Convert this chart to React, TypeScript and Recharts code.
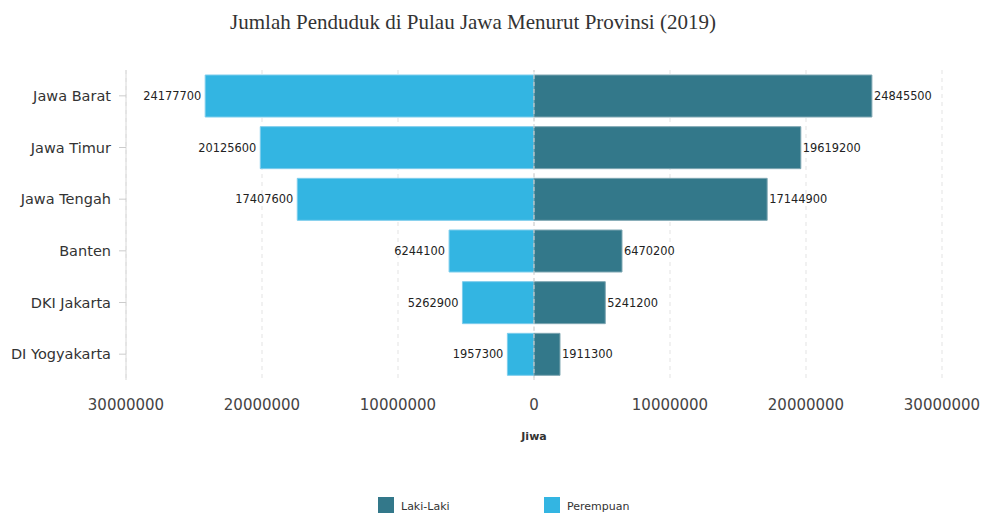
import React from 'react';
import {
  ComposedChart, Bar, XAxis, YAxis, CartesianGrid, ReferenceLine, LabelList,
} from 'recharts';

const provinces = ['Jawa Barat', 'Jawa Timur', 'Jawa Tengah', 'Banten', 'DKI Jakarta', 'DI Yogyakarta'];
const lakiLaki = [24845500, 19619200, 17144900, 6470200, 5241200, 1911300];
const perempuan = [24177700, 20125600, 17407600, 6244100, 5262900, 1957300];
const xTicks = [-30000000, -20000000, -10000000, 0, 10000000, 20000000, 30000000];

const data = provinces.map((name, i) => ({
  name,
  laki: lakiLaki[i],
  perempuan: -perempuan[i],
}));

const LAKI = '#33788a';
const PEREMPUAN = '#33b5e2';
const FONT = '"DejaVu Sans", Verdana, sans-serif';

const LeftLabel = (props: any) => {
  const { x, y, width, height, value } = props;
  const left = Math.min(x, x + width);
  return (
    <text x={left - 4} y={y + height / 2} dy="0.35em" textAnchor="end" fontSize={11.4} fill="#222" fontFamily={FONT}>
      {Math.abs(value)}
    </text>
  );
};

const RightLabel = (props: any) => {
  const { x, y, width, height, value } = props;
  const right = Math.max(x, x + width);
  return (
    <text x={right + 2} y={y + height / 2} dy="0.35em" textAnchor="start" fontSize={11.4} fill="#222" fontFamily={FONT}>
      {Math.abs(value)}
    </text>
  );
};

export default function App() {
  return (
    <div style={{ position: 'absolute', left: 0, top: 0, width: 981, height: 513, background: '#fff', overflow: 'hidden' }}>
      <div style={{ position: 'absolute', left: 0, width: 946, top: 9, textAlign: 'center', fontFamily: '"Liberation Serif", "Times New Roman", serif', fontSize: 21, color: '#333', lineHeight: '26px' }}>
        Jumlah Penduduk di Pulau Jawa Menurut Provinsi (2019)
      </div>
      <ComposedChart
        width={981}
        height={513}
        data={data}
        layout="vertical"
        stackOffset="sign"
        margin={{ top: 70, right: 39, bottom: 63, left: 0 }}
        style={{ position: 'absolute', left: 0, top: 0 }}
      >
        <CartesianGrid horizontal={false} vertical stroke="#e3e3e3" strokeDasharray="4 4" />
        <XAxis
          type="number"
          domain={[-30000000, 30000000]}
          ticks={xTicks}
          tickFormatter={(v: number) => String(Math.abs(v))}
          axisLine={false}
          tickLine={false}
          tickMargin={13}
          height={70}
          tick={{ fontSize: 15, fill: '#444', fontFamily: FONT }}
          label={{ value: 'Jiwa', position: 'insideTop', offset: 52, fontSize: 11, fontWeight: 'bold', fill: '#333', fontFamily: FONT }}
        />
        <YAxis
          type="category"
          dataKey="name"
          width={126}
          tickSize={7}
          tickMargin={8}
          axisLine={{ stroke: '#d8d8d8' }}
          tickLine={{ stroke: '#cccccc' }}
          tick={{ fontSize: 14.5, fill: '#333', fontFamily: FONT }}
        />
        <Bar dataKey="perempuan" stackId="a" fill={PEREMPUAN} stroke="#7dcdec" strokeWidth={1} barSize={42} isAnimationActive={false}>
          <LabelList dataKey="perempuan" content={LeftLabel} />
        </Bar>
        <Bar dataKey="laki" stackId="a" fill={LAKI} stroke="#7ea6b2" strokeWidth={1} barSize={42} isAnimationActive={false}>
          <LabelList dataKey="laki" content={RightLabel} />
        </Bar>
        <ReferenceLine x={0} stroke="#d0d0d0" strokeDasharray="4 3" />
      </ComposedChart>
      <div style={{ position: 'absolute', left: 378, top: 497, width: 16, height: 16, background: LAKI }} />
      <div style={{ position: 'absolute', left: 401, top: 500, fontSize: 11, fontFamily: FONT, color: '#333', lineHeight: '14px' }}>Laki-Laki</div>
      <div style={{ position: 'absolute', left: 544, top: 497, width: 16, height: 16, background: PEREMPUAN }} />
      <div style={{ position: 'absolute', left: 567, top: 500, fontSize: 11, fontFamily: FONT, color: '#333', lineHeight: '14px' }}>Perempuan</div>
    </div>
  );
}
